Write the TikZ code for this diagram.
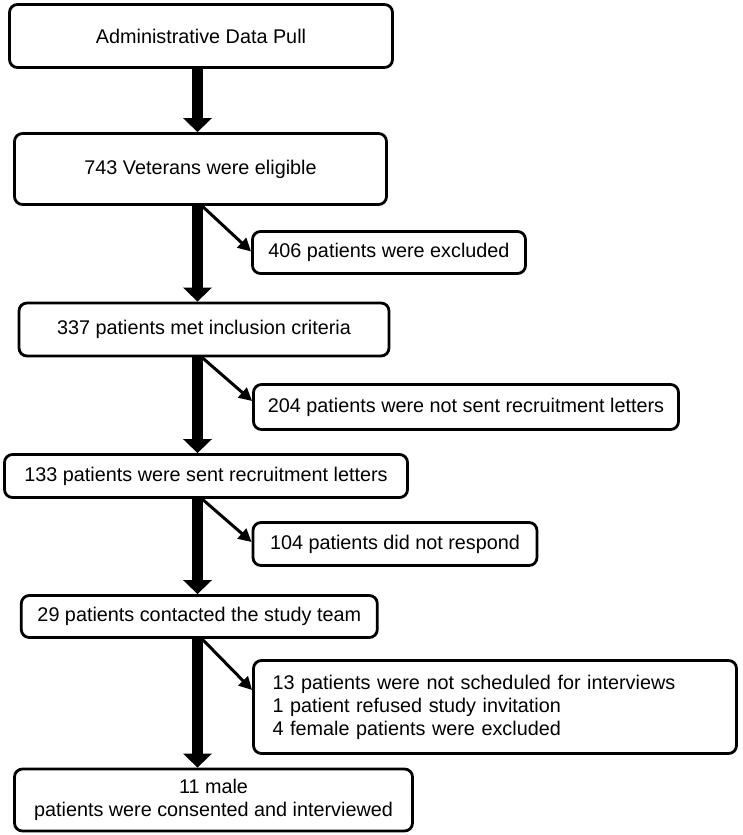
\documentclass[tikz,border=0pt]{standalone}
\usepackage{fontspec}
\setmainfont{Liberation Sans}
\usetikzlibrary{arrows.meta}
\begin{document}
\begin{tikzpicture}[x=1pt,y=-1pt,
  box/.style={draw, line width=2.8pt, rounded corners=8pt, inner sep=0pt, align=center,
    font=\fontsize{19.8}{23}\selectfont},
  mainarrow/.style={line width=11.5pt, -{Triangle[length=14pt,width=28pt]}},
  sidearrow/.style={line width=3pt, -{Triangle[length=13pt,width=13pt]}}]
\useasboundingbox (0,0) rectangle (742,835);
% main column
\node[box, minimum width=383pt, minimum height=63pt] (b1) at (201,36) {Administrative Data Pull};
\node[box, minimum width=372pt, minimum height=71pt] (b2) at (200.5,169) {743 Veterans were eligible};
\node[box, minimum width=370pt, minimum height=53pt] (b3) at (204,329.5) {337 patients met inclusion criteria};
\node[box, minimum width=403pt, minimum height=43pt] (b4) at (206,476) {133 patients were sent recruitment letters};
\node[box, minimum width=356pt, minimum height=42pt] (b5) at (199.3,616.5) {29 patients contacted the study team};
\node[box, minimum width=398pt, minimum height=62pt] (b6) at (213.5,800) {11 male\\patients were consented and interviewed};
% side boxes
\node[box, minimum width=273pt, minimum height=42pt] (s1) at (389,252.5) {406 patients were excluded};
\node[box, minimum width=425pt, minimum height=45pt] (s2) at (466,407) {204 patients were not sent recruitment letters};
\node[box, minimum width=284pt, minimum height=43pt] (s3) at (395,544) {104 patients did not respond};
\node[box, minimum width=483pt, minimum height=93pt, text width=445pt, align=left] (s4) at (495,707)
  {13 patients were not scheduled for interviews\\1 patient refused study invitation\\4 female patients were excluded};
% axes for connectors
\coordinate (ax) at (197.5,0);
\coordinate (sx) at (202,0);
% main arrows
\draw[mainarrow] (ax |- b1.south) -- (ax |- b2.north);
\draw[mainarrow] (ax |- b2.south) -- (ax |- b3.north);
\draw[mainarrow] (ax |- b3.south) -- (ax |- b4.north);
\draw[mainarrow] (ax |- b4.south) -- (ax |- b5.north);
\draw[mainarrow] (ax |- b5.south) -- (ax |- b6.north);
% side arrows
\draw[sidearrow] (sx |- b2.south) -- ([yshift=1pt]s1.west);
\draw[sidearrow] (sx |- b3.south) -- ([yshift=6pt]s2.west);
\draw[sidearrow] (sx |- b4.south) -- ([yshift=2pt]s3.west);
\draw[sidearrow] (sx |- b5.south) -- ([yshift=17pt]s4.west);
\end{tikzpicture}
\end{document}
